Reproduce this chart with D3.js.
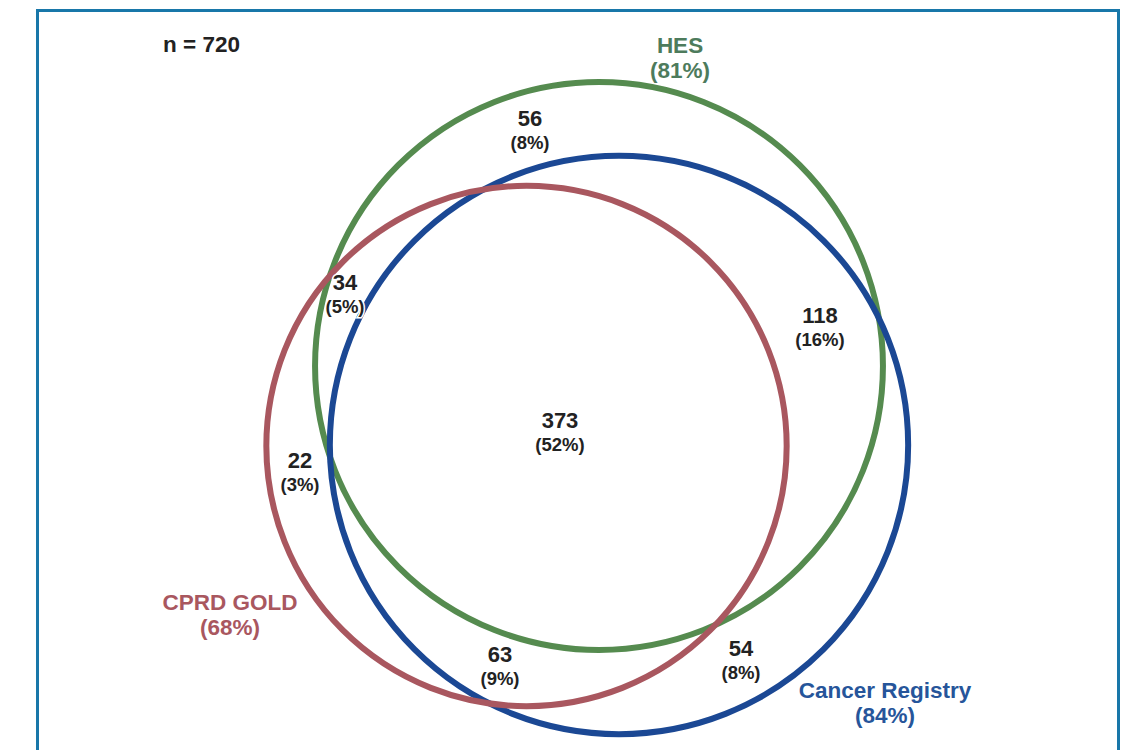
<!DOCTYPE html>
<html>
<head>
<meta charset="utf-8">
<script src="https://cdn.jsdelivr.net/npm/d3@7"></script>
<style>
  html, body { margin: 0; padding: 0; background: #fff; }
  svg { display: block; font-family: "Liberation Sans", Arial, sans-serif; }
</style>
</head>
<body>
<div id="chart"></div>
<script>
// Data sources in the overlap diagram
const total = 720;
const setNames = ['HES', 'Cancer Registry', 'CPRD GOLD'];
const setPercents = [81, 84, 68];
const setColors = ['#558b4f', '#1b4894', '#a9575f'];
const labelColors = ['#4d7b5c', '#26559a', '#a9575f'];

// Region counts (exclusive segments)
const regionLabels = ['56', '34', '118', '373', '22', '63', '54'];
const regionPercents = ['8%', '5%', '16%', '52%', '3%', '9%', '8%'];

// layout (unit space) - circle centres and label anchors
const centres = [[59.9, 36.6], [61.9, 44.5], [52.65, 44.6]];
const setLabelPos = [[68.0, 5.3], [88.5, 69.8], [23.0, 61.0]];
const regionPos = [[53.0, 12.6], [34.5, 29.0], [82.0, 32.3], [56.0, 42.8], [30.0, 46.8], [50.0, 66.2], [74.1, 65.6]];

const width = 1131, height = 750;
const x = d3.scaleLinear().domain([0, 100]).range([0, 1000]);
const y = d3.scaleLinear().domain([0, 100]).range([0, 1000]);
const r = d3.scaleSqrt().domain([0, total]).range([0, 315.5]);

const svg = d3.select('#chart').append('svg')
  .attr('width', width)
  .attr('height', height);

// outer frame
svg.append('rect')
  .attr('x', 37.5).attr('y', 10.5)
  .attr('width', 1081).attr('height', 800)
  .attr('fill', '#fff')
  .attr('stroke', '#1877a9')
  .attr('stroke-width', 3);

// circles, sized by area
svg.selectAll('.set-circle')
  .data(setNames)
  .enter()
  .append('circle')
  .attr('class', 'set-circle')
  .attr('cx', (d, i) => x(centres[i][0]))
  .attr('cy', (d, i) => y(centres[i][1]))
  .attr('r', (d, i) => r(total * setPercents[i] / 100))
  .attr('fill', 'none')
  .attr('stroke', (d, i) => setColors[i])
  .attr('stroke-width', 6);

// n label
svg.append('text')
  .attr('x', 163).attr('y', 52)
  .attr('font-size', 22.5).attr('font-weight', 'bold')
  .attr('fill', '#222')
  .text('n = ' + total);

// set labels
const setLab = svg.selectAll('.set-label')
  .data(setNames)
  .enter()
  .append('text')
  .attr('class', 'set-label')
  .attr('text-anchor', 'middle')
  .attr('font-size', 22.5)
  .attr('font-weight', 'bold')
  .attr('fill', (d, i) => labelColors[i])
  .attr('transform', (d, i) => 'translate(' + x(setLabelPos[i][0]) + ',' + y(setLabelPos[i][1]) + ')');
setLab.append('tspan').attr('x', 0).attr('y', 0).text(d => d);
setLab.append('tspan').attr('x', 0).attr('y', 25).text((d, i) => '(' + setPercents[i] + '%)');

// region labels
const regLab = svg.selectAll('.region-label')
  .data(regionLabels)
  .enter()
  .append('text')
  .attr('class', 'region-label')
  .attr('text-anchor', 'middle')
  .attr('font-weight', 'bold')
  .attr('fill', '#222')
  .attr('stroke', '#fff')
  .attr('stroke-width', 3)
  .attr('paint-order', 'stroke')
  .attr('transform', (d, i) => 'translate(' + x(regionPos[i][0]) + ',' + y(regionPos[i][1]) + ')');
regLab.append('tspan').attr('x', 0).attr('y', 0).attr('font-size', 22).text(d => d);
regLab.append('tspan').attr('x', 0).attr('y', 22.5).attr('font-size', 18.5).text((d, i) => '(' + regionPercents[i] + ')');
</script>
</body>
</html>
